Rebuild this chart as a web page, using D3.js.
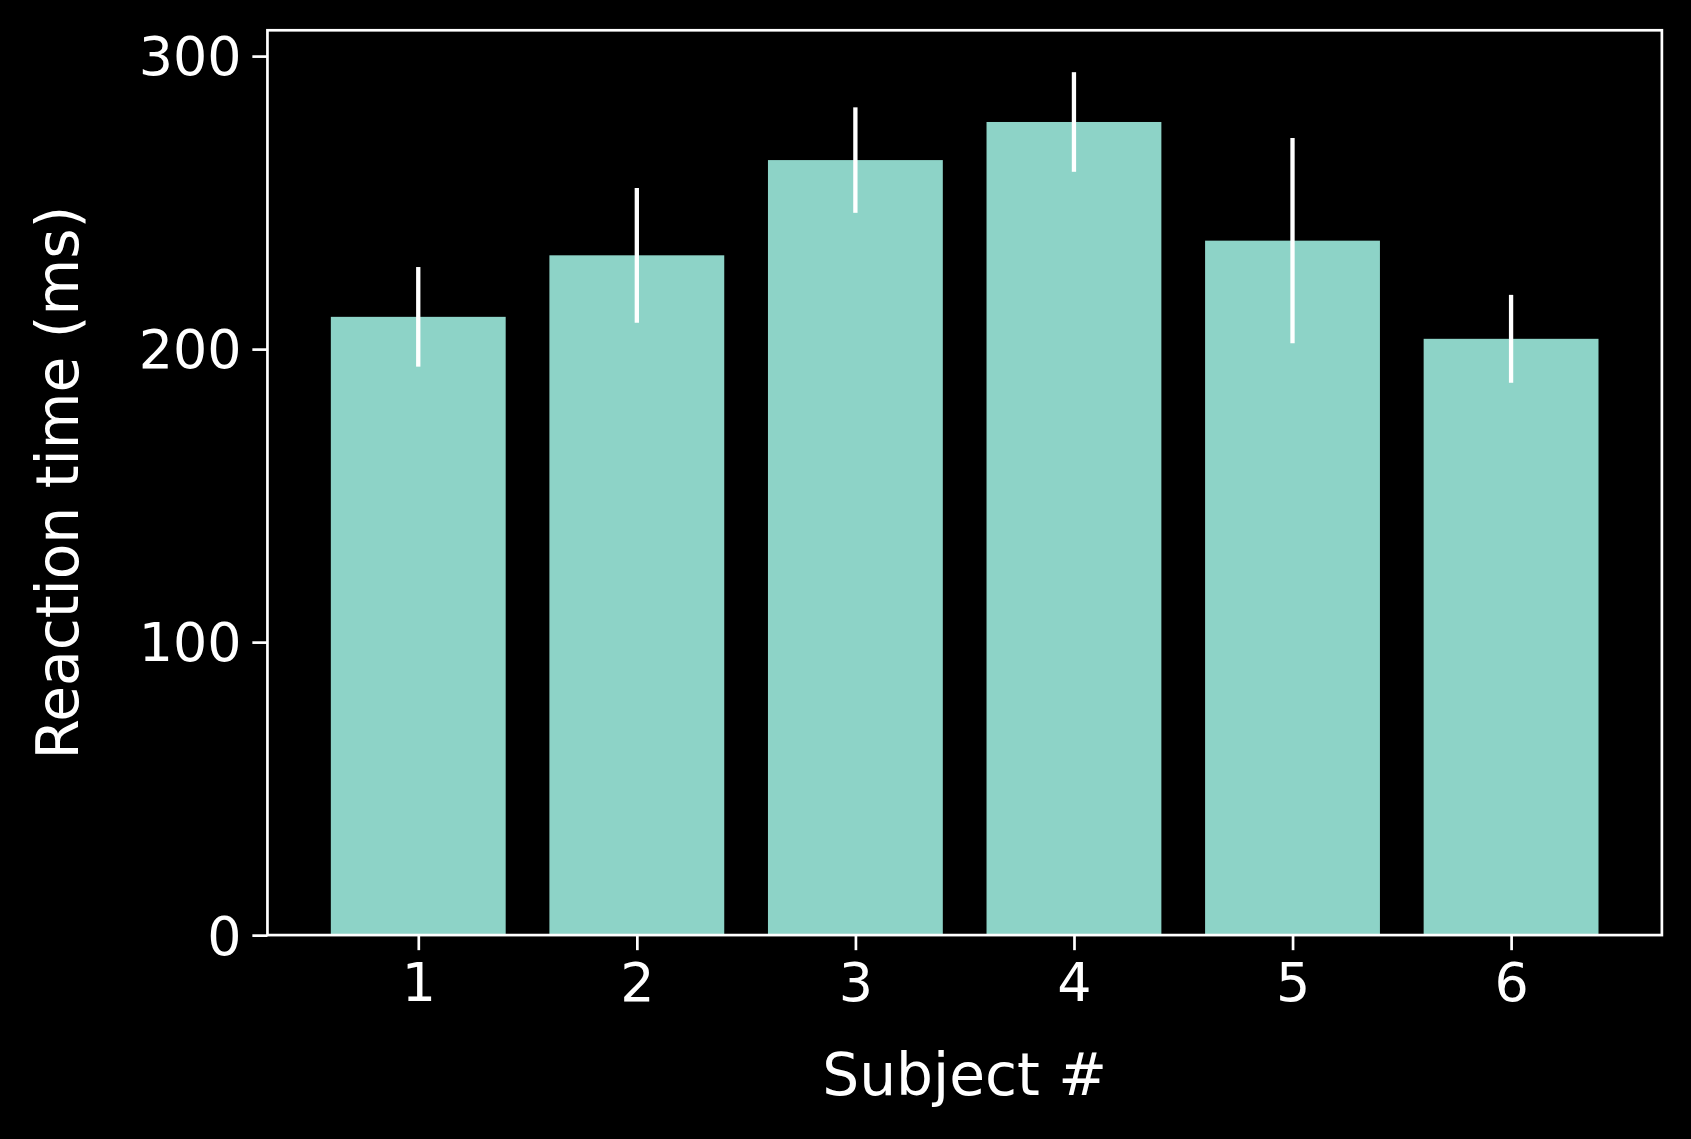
<!DOCTYPE html>
<html><head><meta charset="utf-8">
<script src="https://cdn.jsdelivr.net/npm/d3@7"></script>
<style>html,body{margin:0;background:#000;}svg{display:block;}</style>
</head><body><div id="vizHolder"></div>
<script>
var subjects = [1, 2, 3, 4, 5, 6],
	means = [211, 232, 264.5, 277.5, 237, 203.5],
	errors = [17, 23, 18, 17, 35, 15],
	yTicks = [0, 100, 200, 300];

var W = 1568, H = 1056,
	padLeft = 248, padRight = 1541, padTop = 28, padBottom = 867;

var svg = d3.select('#vizHolder').append('svg')
	.attr('width', 1691).attr('height', 1139)
	.attr('viewBox', '0 0 ' + W + ' ' + H)
	.style('font-family', 'DejaVu Sans');

svg.append('rect').attr('width', W).attr('height', H).attr('fill', '#000');

var x = d3.scaleLinear().domain([0.31, 6.69]).range([padLeft, padRight]);
var y = d3.scaleLinear().domain([0, 308.8]).range([padBottom, padTop]);
var bw = x(1.8) - x(1);

svg.selectAll('rect.bar').data(subjects).enter().append('rect')
	.attr('class', 'bar')
	.attr('x', function(d) { return x(d) - bw / 2; })
	.attr('width', bw)
	.attr('y', function(d, i) { return y(means[i]); })
	.attr('height', function(d, i) { return y(0) - y(means[i]); })
	.attr('fill', '#8dd3c7');

svg.selectAll('line.err').data(subjects).enter().append('line')
	.attr('x1', function(d) { return x(d); }).attr('x2', function(d) { return x(d); })
	.attr('y1', function(d, i) { return y(means[i] - errors[i]); })
	.attr('y2', function(d, i) { return y(means[i] + errors[i]); })
	.attr('stroke', '#fff').attr('stroke-width', 4);

var xa = svg.append('g').attr('transform', 'translate(0,' + padBottom + ')')
	.call(d3.axisBottom(x).tickValues(subjects).tickFormat(d3.format('d')).tickSize(14).tickPadding(12));
var ya = svg.append('g').attr('transform', 'translate(' + padLeft + ',0)')
	.call(d3.axisLeft(y).tickValues(yTicks).tickSize(14).tickPadding(10));
[xa, ya].forEach(function(a) {
	a.select('.domain').remove();
	a.selectAll('line').attr('stroke', '#fff').attr('stroke-width', 2.5);
	a.selectAll('text').attr('fill', '#fff').style('font-size', '50px').style('font-family', 'DejaVu Sans');
});
ya.selectAll('text').attr('dy', '0.35em');

svg.append('rect').attr('x', padLeft).attr('y', padTop)
	.attr('width', padRight - padLeft).attr('height', padBottom - padTop)
	.attr('fill', 'none').attr('stroke', '#fff').attr('stroke-width', 2.5);

svg.append('text').attr('x', (padLeft + padRight) / 2).attr('y', 1015)
	.attr('text-anchor', 'middle').attr('fill', '#fff').style('font-size', '54px')
	.text('Subject #');
svg.append('text').attr('transform', 'translate(72,' + ((padTop + padBottom) / 2) + ') rotate(-90)')
	.attr('text-anchor', 'middle').attr('fill', '#fff').style('font-size', '54px')
	.text('Reaction time (ms)');
</script></body></html>
